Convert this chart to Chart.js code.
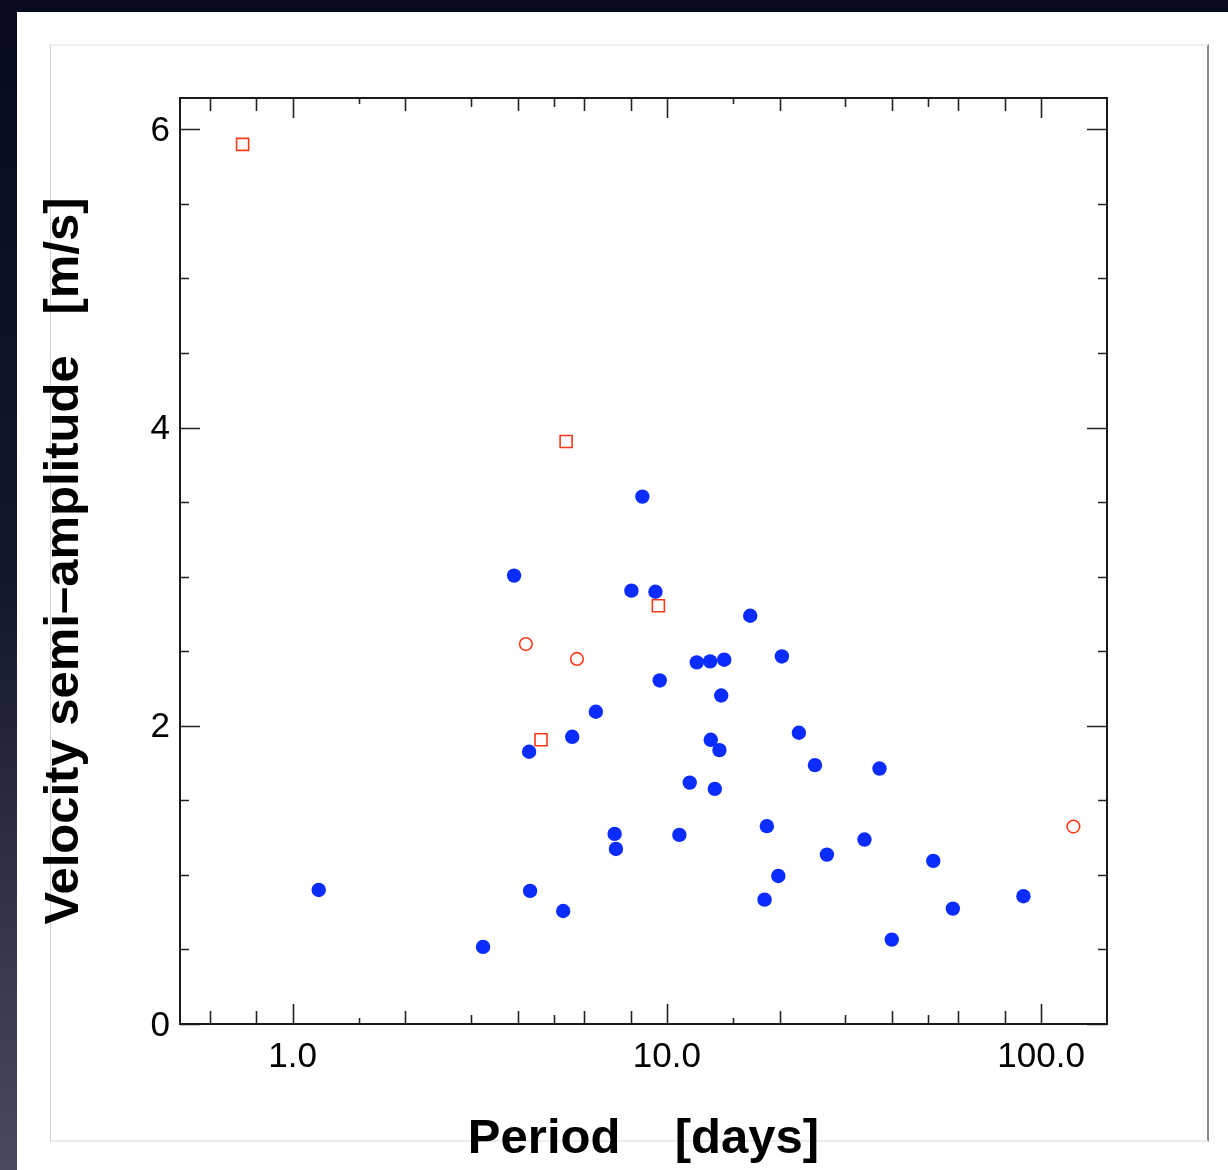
<!DOCTYPE html>
<html>
<head>
<meta charset="utf-8">
<script src="https://cdn.jsdelivr.net/npm/chart.js@4"></script>
<style>
  html, body { margin: 0; padding: 0; }
  body {
    width: 1228px; height: 1170px; overflow: hidden; position: relative;
    background: linear-gradient(to bottom, #060a1c 0%, #14182c 50%, #4a4a5e 100%);
  }
  #sheet { position: absolute; left: 17px; top: 12px; right: 0; bottom: 0; background: #fff; }
  #panel {
    position: absolute; left: 50px; top: 44px; width: 1156px; height: 1094px;
    border-top: 2px solid #f0f0f0; border-left: 1px solid #cfcfcf;
    border-right: 2px solid #8a8a8a; border-bottom: 2px solid #ececec;
  }
  #plot { position: absolute; left: 0; top: 0; }
</style>
</head>
<body>
<div id="sheet"></div>
<div id="panel"></div>
<canvas id="plot" width="1228" height="1170"></canvas>
<script>
// --- data ---
// filled blue circles
const bluePeriod = [1.174, 3.227, 3.906, 4.284, 4.31, 5.283, 5.585, 6.46, 7.25, 7.31,
                    8.04, 8.60, 9.32, 9.57, 10.80, 11.51, 12.02, 13.05, 13.10, 13.43,
                    13.82, 13.97, 14.23, 16.70, 18.24, 18.50, 19.85, 20.29, 22.53, 24.87,
                    26.77, 33.73, 37.0, 39.9, 51.5, 58.1, 89.7];
const blueK      = [0.899, 0.517, 3.007, 1.826, 0.893, 0.758, 1.926, 2.094, 1.275, 1.174,
                    2.906, 3.537, 2.899, 2.304, 1.268, 1.619, 2.425, 2.432, 1.906, 1.577,
                    1.837, 2.203, 2.443, 2.738, 0.834, 1.327, 0.993, 2.465, 1.953, 1.736,
                    1.136, 1.237, 1.713, 0.566, 1.094, 0.774, 0.857];
// open red squares
const squarePeriod = [0.735, 5.38, 9.49, 4.61];
const squareK      = [5.899, 3.906, 2.805, 1.906];
// open red circles
const circlePeriod = [4.20, 5.75, 122.0];
const circleK      = [2.548, 2.448, 1.324];

// axis ticks
const xTickLabels = [1, 10, 100];
const xMidTicks   = [0.6, 0.8, 2, 4, 6, 8, 20, 40, 60, 80];
const xSmallTicks = [3, 5, 30, 50];
const xTinyTicks  = [1.5, 15];
const yTickLabels = [0, 2, 4, 6];
const yMinorTicks = [0.5, 1, 1.5, 2.5, 3, 3.5, 4.5, 5, 5.5];

const toPoints = (xs, ys) => xs.map((x, i) => ({ x: x, y: ys[i] }));
const FONT = '"Liberation Sans", Arial, Helvetica, sans-serif';

// inward ticks on all four sides plus the box
const frameTicks = {
  id: 'frameTicks',
  afterDraw(chart) {
    const { ctx, chartArea: a, scales: { x, y } } = chart;
    ctx.save();
    ctx.strokeStyle = '#222';
    ctx.lineWidth = 1.6;
    const vTick = (v, len) => {
      const px = Math.round(x.getPixelForValue(v)) + 0.5;
      ctx.beginPath();
      ctx.moveTo(px, a.bottom); ctx.lineTo(px, a.bottom - len);
      ctx.moveTo(px, a.top); ctx.lineTo(px, a.top + len);
      ctx.stroke();
    };
    const hTick = (v, len) => {
      const py = Math.round(y.getPixelForValue(v)) + 0.5;
      ctx.beginPath();
      ctx.moveTo(a.left, py); ctx.lineTo(a.left + len, py);
      ctx.moveTo(a.right, py); ctx.lineTo(a.right - len, py);
      ctx.stroke();
    };
    xTickLabels.forEach(v => vTick(v, 20));
    xMidTicks.forEach(v => vTick(v, 13));
    xSmallTicks.forEach(v => vTick(v, 9));
    xTinyTicks.forEach(v => vTick(v, 6));
    yTickLabels.forEach(v => hTick(v, 20));
    yMinorTicks.forEach(v => hTick(v, 9));

    ctx.lineWidth = 2;
    ctx.strokeStyle = '#1a1a1a';
    ctx.strokeRect(a.left, a.top, a.right - a.left, a.bottom - a.top);
    ctx.restore();
  }
};

new Chart(document.getElementById('plot'), {
  type: 'scatter',
  data: {
    datasets: [
      {
        data: toPoints(bluePeriod, blueK),
        pointStyle: 'circle',
        pointRadius: 7.2,
        backgroundColor: '#0a2cff',
        borderColor: '#0a2cff',
        borderWidth: 0
      },
      {
        data: toPoints(squarePeriod, squareK),
        pointStyle: 'rect',
        pointRadius: 8.5,
        backgroundColor: 'rgba(0,0,0,0)',
        borderColor: '#ff3a1c',
        borderWidth: 1.6
      },
      {
        data: toPoints(circlePeriod, circleK),
        pointStyle: 'circle',
        pointRadius: 6.3,
        backgroundColor: 'rgba(0,0,0,0)',
        borderColor: '#ff3a1c',
        borderWidth: 1.6
      }
    ]
  },
  options: {
    responsive: false,
    animation: false,
    devicePixelRatio: 1,
    layout: { padding: { left: 0, top: 98, right: 121, bottom: 0 } },
    plugins: { legend: { display: false }, tooltip: { enabled: false } },
    scales: {
      x: {
        type: 'logarithmic',
        min: 0.5,
        max: 150,
        afterBuildTicks: s => { s.ticks = xTickLabels.map(v => ({ value: v })); },
        afterFit: s => { s.height = 146; },
        grid: { display: false, drawTicks: false },
        border: { display: false },
        ticks: {
          padding: 12,
          color: '#000',
          autoSkip: false,
          maxRotation: 0,
          font: { family: FONT, size: 35 },
          callback: v => Number(v).toFixed(1)
        },
        title: {
          display: true,
          text: 'Period    [days]',
          color: '#000',
          font: { family: FONT, size: 49, weight: 'bold' },
          padding: { top: 0, bottom: 1 }
        }
      },
      y: {
        type: 'linear',
        min: 0,
        max: 6.21,
        afterBuildTicks: s => { s.ticks = yTickLabels.map(v => ({ value: v })); },
        afterFit: s => { s.width = 180; },
        grid: { display: false, drawTicks: false },
        border: { display: false },
        ticks: {
          padding: 10,
          labelOffset: 2,
          color: '#000',
          font: { family: FONT, size: 35 },
          callback: v => String(v)
        },
        title: {
          display: true,
          text: 'Velocity semi–amplitude   [m/s]',
          color: '#000',
          font: { family: FONT, size: 49, weight: 'bold' },
          padding: { top: 35, bottom: 0 }
        }
      }
    }
  },
  plugins: [frameTicks]
});
</script>
</body>
</html>
